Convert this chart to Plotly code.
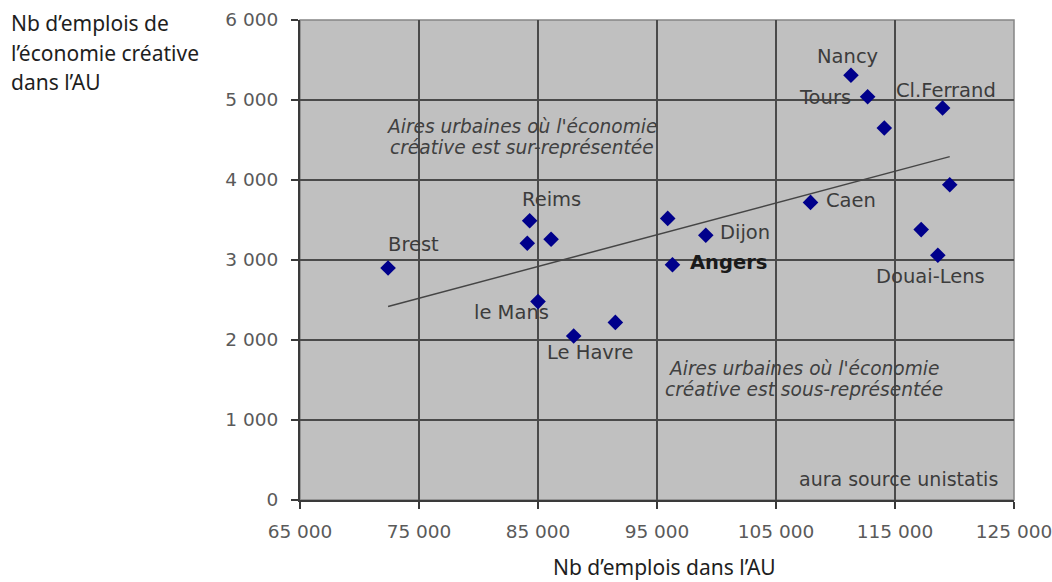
import numpy as np
import plotly.graph_objects as go

# Aires urbaines : emplois totaux vs emplois de l'économie créative
villes = ["Brest", "Reims", "", "", "le Mans", "Le Havre", "", "", "Dijon",
          "Angers", "Caen", "", "", "Douai-Lens", "Nancy", "Tours", "",
          "Cl.Ferrand"]
emplois_au = [72400, 84300, 84100, 86100, 85000, 88000, 91500, 95900, 99100,
              96300, 107900, 119600, 117200, 118600, 111300, 112700, 114100,
              119000]
emplois_creatifs = [2900, 3490, 3210, 3260, 2480, 2050, 2220, 3520, 3310,
                    2940, 3720, 3940, 3380, 3060, 5310, 5040, 4650, 4900]

x_ticks = [65000, 75000, 85000, 95000, 105000, 115000, 125000]
y_ticks = [0, 1000, 2000, 3000, 4000, 5000, 6000]

# label placement (pixel offsets from each point)
label_offsets = {
    "Brest": (25, 24), "Reims": (22, 21), "le Mans": (-27, -11),
    "Le Havre": (16, -16), "Dijon": (39, 3), "Angers": (56, 2),
    "Caen": (40, 2), "Douai-Lens": (-7, -21), "Nancy": (-3, 19),
    "Tours": (-43, -1), "Cl.Ferrand": (3, 18),
}

LABEL_FONT = "DejaVu Sans"
TITLE_FONT = "Noto Sans"

# linear trend over the cloud
pente, origine = np.polyfit(emplois_au, emplois_creatifs, 1)
x_tend = np.array([min(emplois_au), max(emplois_au)])
y_tend = pente * x_tend + origine

fig = go.Figure()
fig.add_trace(go.Scatter(
    x=x_tend, y=y_tend, mode="lines",
    line=dict(color="#454545", width=1.5), hoverinfo="skip",
))
fig.add_trace(go.Scatter(
    x=emplois_au, y=emplois_creatifs, mode="markers",
    marker=dict(symbol="diamond", size=12, color="#00008b",
                line=dict(width=0)),
    text=villes,
))

annotations = []
for nom, xv, yv in zip(villes, emplois_au, emplois_creatifs):
    if not nom:
        continue
    dx, dy = label_offsets[nom]
    gras = nom == "Angers"
    annotations.append(dict(
        x=xv, y=yv, xref="x", yref="y", showarrow=False,
        text=f"<b>{nom}</b>" if gras else nom,
        xshift=dx, yshift=dy, xanchor="center", yanchor="middle",
        font=dict(family=LABEL_FONT, size=19.5,
                  color="#1a1a1a" if gras else "#3c3c3c"),
    ))

italique = dict(family="DejaVu Sans", size=18.6, color="#404040")
for txt, xp, yp in [
    ("<i>Aires urbaines où l'économie</i>", 0.311, 0.779),
    ("<i>créative est sur-représentée</i>", 0.311, 0.735),
    ("<i>Aires urbaines où l'économie</i>", 0.706, 0.275),
    ("<i>créative est sous-représentée</i>", 0.706, 0.231),
]:
    annotations.append(dict(x=xp, y=yp, xref="paper", yref="paper",
                            text=txt, showarrow=False, font=italique,
                            xanchor="center", yanchor="middle"))

annotations.append(dict(
    x=0.98, y=0.044, xref="paper", yref="paper", text="aura source unistatis",
    showarrow=False, xanchor="right", yanchor="middle",
    font=dict(family=LABEL_FONT, size=19, color="#3c3c3c"),
))

titre_y = ["Nb d’emplois de", "l’économie créative", "dans l’AU"]
for ligne, yp in zip(titre_y, [0.994, 0.931, 0.871]):
    annotations.append(dict(
        x=-0.408, y=yp, xref="paper", yref="paper", text=ligne,
        showarrow=False, xanchor="left", yanchor="middle",
        font=dict(family=TITLE_FONT, size=21, color="#1e1e1e"),
    ))
annotations.append(dict(
    x=0.51, y=-0.14, xref="paper", yref="paper",
    text="Nb d’emplois dans l’AU", showarrow=False,
    xanchor="center", yanchor="middle",
    font=dict(family=TITLE_FONT, size=21, color="#1e1e1e"),
))

axe_commun = dict(
    showgrid=True, gridcolor="#4a4a4a", gridwidth=1.5,
    showline=True, linecolor="#3a3a3a", linewidth=2,
    ticks="outside", ticklen=7, tickcolor="#3a3a3a", tickwidth=1.5,
    tickfont=dict(family=LABEL_FONT, size=18.5, color="#5a5a5a"),
    tickformat=",d", zeroline=False, ticklabeloverflow="allow",
    automargin=False,
)

fig.update_layout(
    width=1052, height=582,
    margin=dict(l=300, r=38, t=20, b=82, autoexpand=False),
    paper_bgcolor="white", plot_bgcolor="#c0c0c0",
    showlegend=False, separators=", ",
    xaxis=dict(range=[65000, 125000], tickvals=x_ticks,
               ticklabelstandoff=7, **axe_commun),
    yaxis=dict(range=[0, 6000], tickvals=y_ticks,
               ticklabelstandoff=9, **axe_commun),
    annotations=annotations,
    shapes=[dict(type="rect", xref="paper", yref="paper",
                 x0=0, x1=1, y0=0, y1=1,
                 line=dict(color="#858585", width=1.5), layer="below")],
)

fig.write_html("out.html")
